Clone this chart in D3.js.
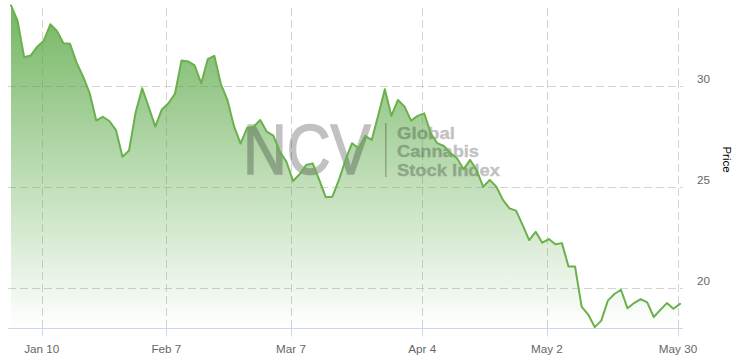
<!DOCTYPE html>
<html>
<head>
<meta charset="utf-8">
<script src="https://cdn.jsdelivr.net/npm/d3@7"></script>
<style>
  html, body { margin: 0; padding: 0; background: #fff; }
  svg { display: block; }
  text { font-family: "Liberation Sans", Arial, Helvetica, sans-serif; }
</style>
</head>
<body>
<svg id="chart" width="741" height="364"></svg>
<script>
// ---- data ----
const dates = [
  "2022-01-03","2022-01-04","2022-01-05","2022-01-06","2022-01-07","2022-01-10","2022-01-11","2022-01-12","2022-01-13","2022-01-14",
  "2022-01-18","2022-01-19","2022-01-20","2022-01-21","2022-01-24","2022-01-25","2022-01-26","2022-01-27","2022-01-28","2022-01-31",
  "2022-02-01","2022-02-02","2022-02-03","2022-02-04","2022-02-07","2022-02-08","2022-02-09","2022-02-10","2022-02-11","2022-02-14",
  "2022-02-15","2022-02-16","2022-02-17","2022-02-18","2022-02-22","2022-02-23","2022-02-24","2022-02-25","2022-02-28",
  "2022-03-01","2022-03-02","2022-03-03","2022-03-04","2022-03-07","2022-03-08","2022-03-09","2022-03-10","2022-03-11","2022-03-14",
  "2022-03-15","2022-03-16","2022-03-17","2022-03-18","2022-03-21","2022-03-22","2022-03-23","2022-03-24","2022-03-25","2022-03-28",
  "2022-03-29","2022-03-30","2022-03-31",
  "2022-04-01","2022-04-04","2022-04-05","2022-04-06","2022-04-07","2022-04-08","2022-04-11","2022-04-12","2022-04-13","2022-04-14",
  "2022-04-18","2022-04-19","2022-04-20","2022-04-21","2022-04-22","2022-04-25","2022-04-26","2022-04-27","2022-04-28","2022-04-29",
  "2022-05-02","2022-05-03","2022-05-04","2022-05-05","2022-05-06","2022-05-09","2022-05-10","2022-05-11","2022-05-12","2022-05-13",
  "2022-05-16","2022-05-17","2022-05-18","2022-05-19","2022-05-20","2022-05-23","2022-05-24","2022-05-25","2022-05-26","2022-05-27",
  "2022-05-30"
];
const prices = [
  34.02,33.26,31.45,31.53,31.97,32.27,33.08,32.75,32.14,32.11,
  31.18,30.49,29.66,28.31,28.50,28.29,27.84,26.52,26.83,28.71,
  29.91,28.98,28.01,28.86,29.17,29.64,31.29,31.24,31.04,30.16,
  31.35,31.52,30.12,29.33,28.03,27.17,27.95,28.01,28.34,
  27.76,27.56,26.77,26.27,25.32,25.65,26.11,26.19,25.37,24.51,
  24.54,25.37,26.36,27.19,26.94,27.55,27.35,28.59,29.86,28.54,
  29.33,29.00,28.31,
  28.54,28.67,27.68,27.19,27.05,26.70,26.44,25.90,26.36,25.86,
  25.03,25.37,25.03,24.38,23.96,23.85,23.14,22.39,22.80,22.26,
  22.44,22.18,22.24,21.08,21.08,19.09,18.70,18.08,18.40,19.39,
  19.72,19.93,19.01,19.27,19.47,19.30,18.58,18.93,19.27,18.99,
  19.23
];
const xTickDates = ["2022-01-10","2022-02-07","2022-03-07","2022-04-04","2022-05-02","2022-05-30"];
const yTickValues = [20, 25, 30];
const yDomain = [18.02, 34.05];
const yTitle = "Price";
const watermarkBig = "NCV";
const watermarkLines = ["Global", "Cannabis", "Stock Index"];
const watermarkWidths = [58, 82, 103];

// ---- layout ----
const plotLeft = 8, plotRight = 683, plotTop = 5, plotBottom = 328.3;
const svg = d3.select("#chart");

const x = d3.scaleLinear().domain([0, dates.length - 1]).range([11, 680]);
const y = d3.scaleLinear().domain(yDomain).range([plotBottom, 4.7]);
const tickShift = 0.3; // ticks sit at midnight, a bit before the daily point
const fmt = d3.timeFormat("%b %-d");
const parse = d3.timeParse("%Y-%m-%d");
const xTicks = xTickDates.map(d => ({ pos: dates.indexOf(d) - tickShift, label: fmt(parse(d)) }));

// gradient
const defs = svg.append("defs");
const grad = defs.append("linearGradient").attr("id", "areaGrad")
  .attr("x1", 0).attr("y1", 0).attr("x2", 0).attr("y2", 1);
grad.append("stop").attr("offset", "0%").attr("stop-color", "#5aa845").attr("stop-opacity", 0.84);
grad.append("stop").attr("offset", "100%").attr("stop-color", "#5aa845").attr("stop-opacity", 0.0);

// grid
const grid = svg.append("g").attr("stroke", "#d3d3d3").attr("stroke-width", 1).attr("stroke-dasharray", "8,4");
grid.selectAll("line.h").data(yTickValues).join("line")
  .attr("x1", plotLeft).attr("x2", plotRight)
  .attr("y1", d => Math.round(y(d)) + 0.5).attr("y2", d => Math.round(y(d)) + 0.5);
grid.selectAll("line.v").data(xTicks).join("line")
  .attr("x1", d => Math.round(x(d.pos)) + 0.5).attr("x2", d => Math.round(x(d.pos)) + 0.5)
  .attr("y1", plotTop + 3).attr("y2", plotBottom);

// area
const idx = d3.range(prices.length);
const area = d3.area().x(i => x(i)).y0(y(yDomain[0])).y1(i => y(prices[i]));
svg.append("path").datum(idx).attr("d", area).attr("fill", "url(#areaGrad)");

// watermark
const wm = svg.append("g").attr("opacity", 0.24);
wm.append("text").attr("x", 243).attr("y", 173.5)
  .attr("font-size", 70).attr("textLength", 128).attr("lengthAdjust", "spacingAndGlyphs")
  .attr("fill", "#000").attr("stroke", "#000").attr("stroke-width", 1.6)
  .text(watermarkBig);
wm.append("rect").attr("x", 385).attr("y", 123).attr("width", 1.5).attr("height", 54).attr("fill", "#000");
wm.selectAll("text.wl").data(watermarkLines).join("text")
  .attr("x", 397).attr("y", (d, i) => 139 + i * 18.3)
  .attr("font-size", 16.3).attr("font-weight", "bold").attr("fill", "#000")
  .attr("textLength", (d, i) => watermarkWidths[i]).attr("lengthAdjust", "spacingAndGlyphs")
  .attr("stroke", "#000").attr("stroke-width", 0.4)
  .text(d => d);

// line
const line = d3.line().x(i => x(i)).y(i => y(prices[i]));
svg.append("path").datum(idx).attr("d", line)
  .attr("fill", "none").attr("stroke", "#6ab04c").attr("stroke-width", 2)
  .attr("stroke-linejoin", "round").attr("stroke-linecap", "round");

// x axis
const axisY = Math.round(plotBottom) + 0.5;
svg.append("line").attr("x1", plotLeft).attr("x2", plotRight).attr("y1", axisY).attr("y2", axisY)
  .attr("stroke", "#ccd6eb").attr("stroke-width", 1);
svg.selectAll("line.xt").data(xTicks).join("line")
  .attr("x1", d => Math.round(x(d.pos)) + 0.5).attr("x2", d => Math.round(x(d.pos)) + 0.5)
  .attr("y1", axisY).attr("y2", axisY + 8)
  .attr("stroke", "#ccd6eb").attr("stroke-width", 1);
svg.selectAll("text.xl").data(xTicks).join("text")
  .attr("x", d => x(d.pos)).attr("y", 352.5)
  .attr("text-anchor", "middle").attr("font-size", 11.7).attr("fill", "#666")
  .text(d => d.label);

// y axis labels (opposite)
svg.selectAll("text.yl").data(yTickValues).join("text")
  .attr("x", 697).attr("y", d => y(d) - 3.2)
  .attr("font-size", 11.7).attr("fill", "#666")
  .text(d => d);

// y title
svg.append("text").attr("transform", "translate(723,159.5) rotate(90)")
  .attr("text-anchor", "middle").attr("font-size", 11.5).attr("fill", "#000")
  .text(yTitle);
</script>
</body>
</html>
